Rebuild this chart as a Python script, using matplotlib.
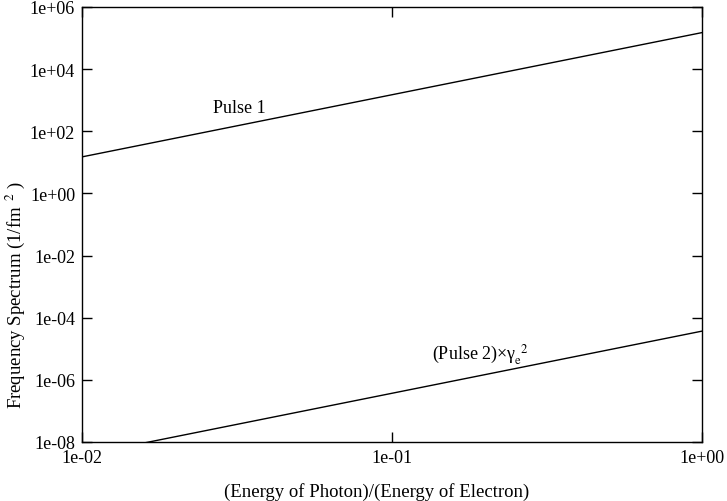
import numpy as np
import matplotlib
matplotlib.use("Agg")
import matplotlib.pyplot as plt
from matplotlib.ticker import FixedLocator, FuncFormatter, NullLocator

plt.rcParams['font.family'] = ['Liberation Serif', 'DejaVu Serif']
plt.rcParams['mathtext.fontset'] = 'stix'

# values (straight lines in log-log, two ends each)
energy_ratio = [1e-2, 1e0]
pulse1 = [15.0, 1.5e5]
pulse2 = [3.7e-9, 3.7e-5]

x_ticks = [1e-2, 1e-1, 1e0]
y_ticks = [1e-8, 1e-6, 1e-4, 1e-2, 1e0, 1e2, 1e4, 1e6]

fig = plt.figure(figsize=(7.27, 5.02), dpi=100)
ax = fig.add_axes([82 / 727, 1 - 443 / 502, 620 / 727, 435 / 502])

ax.plot(energy_ratio, pulse1, color='black', lw=1)
ax.plot(energy_ratio, pulse2, color='black', lw=1)

ax.set_xscale('log')
ax.set_yscale('log')
ax.set_xlim(1e-2, 1e0)
ax.set_ylim(1e-8, 1e6)

def sci(v, pos):
    e = int(round(np.log10(v)))
    return "1e%s%02d" % ('+' if e >= 0 else '-', abs(e))

ax.xaxis.set_major_locator(FixedLocator(x_ticks))
ax.yaxis.set_major_locator(FixedLocator(y_ticks))
ax.xaxis.set_minor_locator(NullLocator())
ax.yaxis.set_minor_locator(NullLocator())
ax.xaxis.set_major_formatter(FuncFormatter(sci))
ax.yaxis.set_major_formatter(FuncFormatter(sci))
ax.tick_params(direction='in', length=7, width=1, labelsize=13,
               top=True, right=True, pad=5)

for s in ax.spines.values():
    s.set_linewidth(1)

# axis titles sit a bit off-centre in the original
fig.text(377 / 727, 1 - 492 / 502, '(Energy of Photon)/(Energy of Electron)',
         fontsize=13.5, ha='center', va='center')
fig.text(15 / 727, 1 - 295 / 502, r'Frequency Spectrum (1/fm$^{\ \ 2}$ )',
         fontsize=13.5, ha='center', va='center', rotation=90)

ax.text(0.0265, 600, 'Pulse 1', fontsize=13, ha='left', va='center')
ax.text(0.1346, 6.7e-6, r'(Pulse 2)×γ$_{\mathrm{e}}^{\ \ 2}$', fontsize=13,
        ha='left', va='center')

fig.savefig('out.png', dpi=100)
